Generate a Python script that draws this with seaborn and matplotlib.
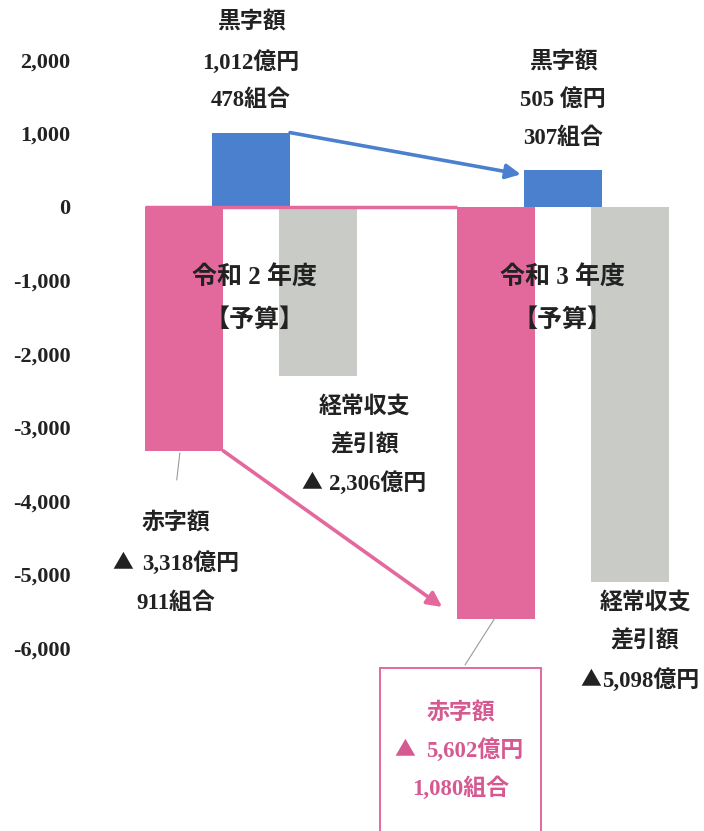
import matplotlib
matplotlib.use("Agg")
import matplotlib.pyplot as plt
import seaborn as sns
import pandas as pd
from matplotlib.patches import FancyArrowPatch, Rectangle

# 年度別の組合収支（億円）
years = ["令和2年度", "令和3年度"]
kinds = ["赤字額", "黒字額", "経常収支差引額"]
deficit = [-3318, -5602]
surplus = [1012, 505]
balance = [-2306, -5098]
deficit_unions = [911, 1080]
surplus_unions = [478, 307]
yticks = [2000, 1000, 0, -1000, -2000, -3000, -4000, -5000, -6000]

PINK = "#E3699D"
BLUE = "#4A80CD"
GRAY = "#C9CBC7"
TEXT = "#222222"
BOX_TEXT = "#D65A92"

df = pd.DataFrame({
    "年度": years * 3,
    "区分": [k for k in kinds for _ in years],
    "金額": deficit + surplus + balance,
})

sns.set_theme(style="white")
plt.rcParams["font.family"] = ["Liberation Serif", "Noto Sans CJK JP", "DejaVu Sans"]
plt.rcParams["font.weight"] = "bold"

fig = plt.figure(figsize=(7.04, 8.31), dpi=100)
ax = fig.add_axes([80 / 704, 0, 1 - 80 / 704, 1])

sns.barplot(data=df, x="年度", y="金額", hue="区分", order=years, hue_order=kinds,
            palette={"赤字額": PINK, "黒字額": BLUE, "経常収支差引額": GRAY},
            width=0.642, gap=-0.17, dodge=True, saturation=1, errorbar=None,
            linewidth=0, legend=False, ax=ax)

ax.set_xlim(-0.548, 1.452)
ax.set_ylim(-8490, 2816)
ax.set_yticks(yticks)
ax.set_yticklabels([f"{v:,}" for v in yticks], fontsize=16, fontweight="bold", color=TEXT)
ax.tick_params(axis="y", length=0, pad=7)
ax.set_xticks([])
ax.set_xlabel("")
ax.set_ylabel("")
sns.despine(ax=ax, left=True, bottom=True)

pink_bars = list(ax.containers[0])
blue_bars = list(ax.containers[1])

# 赤字額の上辺をつなぐ線
ax.plot([pink_bars[0].get_x(), pink_bars[1].get_x()], [0, 0], color=PINK, lw=2.5,
        zorder=1, solid_capstyle="butt")

# 黒字額の推移矢印
b0, b1 = blue_bars
ax.add_patch(FancyArrowPatch(
    (b0.get_x() + b0.get_width(), b0.get_height()),
    (b1.get_x() - 0.01, b1.get_height() * 0.88),
    arrowstyle="-|>", mutation_scale=22, color=BLUE, lw=2.6, shrinkA=0, shrinkB=0, zorder=3))

# 赤字額の推移矢印
p0, p1 = pink_bars
ax.add_patch(FancyArrowPatch(
    (p0.get_x() + p0.get_width(), p0.get_height()),
    (p1.get_x() - 0.048, p1.get_height() + 160),
    arrowstyle="-|>", mutation_scale=22, color=PINK, lw=2.6, shrinkA=0, shrinkB=0, zorder=3))

# 引き出し線
ax.plot([-0.228, -0.238], [-3347, -3714], color="#9a9a9a", lw=0.8, zorder=2)
ax.plot([0.782, 0.686], [-5592, -6231], color="#9a9a9a", lw=0.8, zorder=2)

# 令和3年度赤字額の枠
ax.add_patch(Rectangle((0.413, -8700), 0.516, 8700 - 6272, fill=False,
                       edgecolor=PINK, lw=1.4, clip_on=False, zorder=2))


def label(x, y, s, size=16.5, color=TEXT, ha="center", family=None):
    kw = {"family": family} if family else {}
    ax.text(x, y, s, ha=ha, va="center", fontsize=size, fontweight="bold",
            color=color, clip_on=False, zorder=4, **kw)


def triangle_label(x_tri, x_num, y, amount, color=TEXT):
    # ▲ は全角の三角で、金額は右側に続ける
    label(x_tri, y + 20, "▲", size=15, color=color, ha="right",
          family=["Noto Sans CJK JP"])
    label(x_num, y, f"{amount:,}億円", color=color, ha="left")


label(0.0, 2517, "黒字額")
label(0.0, 1973, f"{surplus[0]:,}億円")
label(0.0, 1456, f"{surplus_unions[0]}組合")

label(1.0, 1973, "黒字額")
label(1.0, 1456, f"{surplus[1]:,} 億円")
label(1.0, 939, f"{surplus_unions[1]}組合")

label(0.01, -966, "令和 2 年度", size=18)
label(0.01, -1537, "【予算】", size=18)
label(1.0, -966, "令和 3 年度", size=18)
label(1.0, -1537, "【予算】", size=18)

label(0.365, -2721, "経常収支")
label(0.365, -3238, "差引額")
triangle_label(0.228, 0.250, -3755, -balance[0])

label(-0.24, -4299, "赤字額")
triangle_label(-0.378, -0.349, -4844, -deficit[0])
label(-0.24, -5388, f"{deficit_unions[0]}組合")

label(1.263, -5388, "経常収支")
label(1.263, -5905, "差引額")
triangle_label(1.122, 1.125, -6435, -balance[1])

label(0.673, -6884, "赤字額", color=BOX_TEXT)
triangle_label(0.526, 0.561, -7388, -deficit[1], color=BOX_TEXT)
label(0.673, -7905, f"{deficit_unions[1]:,}組合", color=BOX_TEXT)

fig.savefig("out.png", dpi=100)
